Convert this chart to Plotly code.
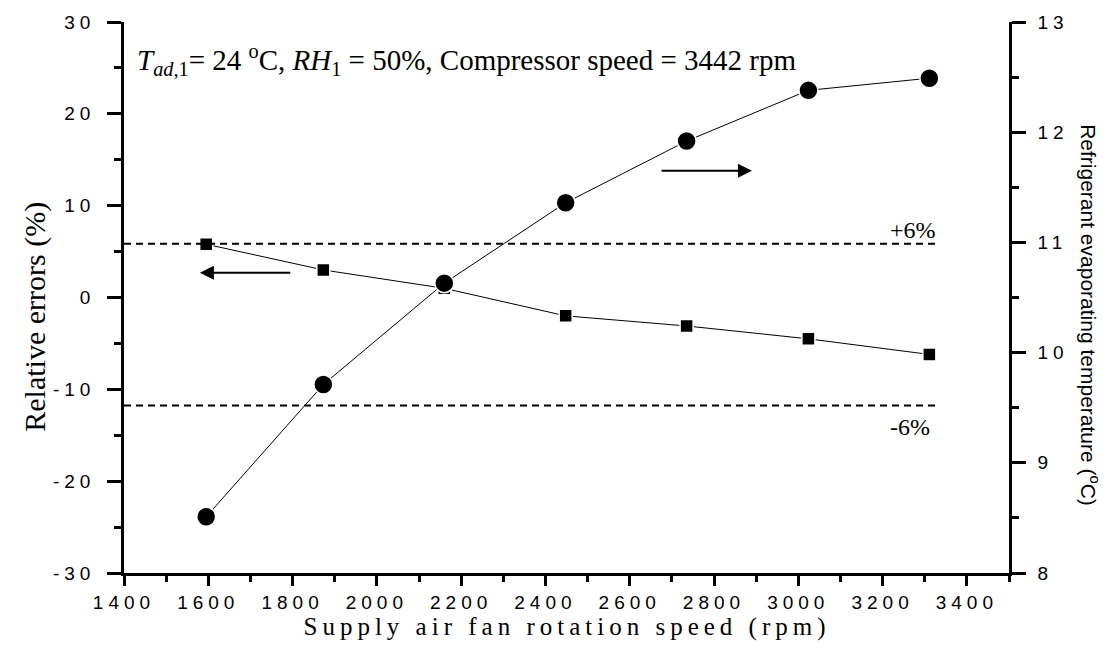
import plotly.graph_objects as go

# ---- data ----
fan_speed = [1595, 1873, 2160, 2448, 2735, 3024, 3311]           # rpm
relative_error = [5.8, 3.0, 1.0, -2.0, -3.1, -4.5, -6.2]          # % (left axis)
evap_temp = [8.51, 9.71, 10.63, 11.36, 11.92, 12.38, 12.49]        # degC (right axis)

band_upper = 5.85     # "+6%" dashed line, left-axis units
band_lower = -11.75   # "-6%" dashed line, left-axis units
band_x = [1400, 3325]

x_ticks = list(range(1400, 3401, 200))
y_ticks = list(range(-30, 31, 10))
y_ticktext = [str(v) for v in y_ticks]
y2_ticks = list(range(8, 14))

SERIF = "Liberation Serif"
SANS = "Liberation Sans"

fig = go.Figure()

fig.add_trace(go.Scatter(
    x=fan_speed, y=relative_error, mode="lines+markers",
    line=dict(color="black", width=1),
    marker=dict(symbol="square", size=13, color="black",
                line=dict(color="white", width=1.5)),
    showlegend=False, yaxis="y", cliponaxis=False))

fig.add_trace(go.Scatter(
    x=fan_speed, y=evap_temp, mode="lines+markers",
    line=dict(color="black", width=1),
    marker=dict(symbol="circle", size=19, color="black",
                line=dict(color="white", width=1.5)),
    showlegend=False, yaxis="y2", cliponaxis=False))

for yv in (band_upper, band_lower):
    fig.add_shape(type="line", xref="x", yref="y", x0=band_x[0], x1=band_x[1],
                  y0=yv, y1=yv, line=dict(color="black", width=2, dash="7px,5px"))

axis_common = dict(showline=True, linecolor="black", linewidth=2.5, ticks="outside",
                   tickcolor="black", tickwidth=2.5, showgrid=False, zeroline=False,
                   tickfont=dict(family=SANS, size=19, color="black"))

fig.update_layout(
    width=1115, height=663,
    margin=dict(l=124, r=106, t=20, b=90),
    paper_bgcolor="white", plot_bgcolor="white",
    xaxis=dict(range=[1400, 3500], tickvals=x_ticks, ticklen=10,
               minor=dict(dtick=100, tick0=1400, ticklen=6, tickwidth=2.5,
                          tickcolor="black", ticks="outside"),
               **axis_common),
    yaxis=dict(range=[-30, 30], tickvals=y_ticks, ticktext=y_ticktext, ticklen=14,
               ticklabelstandoff=8,
               minor=dict(dtick=5, tick0=-30, ticklen=7, tickwidth=2.5,
                          tickcolor="black", ticks="outside"),
               **axis_common),
    yaxis2=dict(range=[8, 13], tickvals=y2_ticks, overlaying="y", side="right",
                ticklen=14, ticklabelstandoff=8,
                minor=dict(dtick=0.5, tick0=8, ticklen=7, tickwidth=2.5,
                           tickcolor="black", ticks="outside"),
                **axis_common),
)

fig.add_annotation(
    text="<i>T<sub>ad,</sub></i><sub>1</sub>= 24 <sup>o</sup>C, <i>RH</i><sub>1</sub> = 50%, Compressor speed = 3442 rpm",
    xref="paper", yref="paper", x=0.012, y=0.931, xanchor="left", yanchor="middle",
    showarrow=False, font=dict(family=SERIF, size=29, color="black"))
fig.add_annotation(text="+6%", xref="x", yref="y", x=3213, y=7.4, xanchor="left",
                   yanchor="middle", showarrow=False,
                   font=dict(family=SERIF, size=24, color="black"))
fig.add_annotation(text="-6%", xref="x", yref="y", x=3213, y=-14.1, xanchor="left",
                   yanchor="middle", showarrow=False,
                   font=dict(family=SERIF, size=24, color="black"))

# direction arrows
fig.add_annotation(x=1580, y=2.7, ax=1798, ay=2.7, xref="x", yref="y", axref="x", ayref="y",
                   text="", showarrow=True, arrowhead=2, arrowsize=1.4, arrowwidth=2,
                   arrowcolor="black")
fig.add_annotation(x=2890, y=13.8, ax=2672, ay=13.8, xref="x", yref="y", axref="x", ayref="y",
                   text="", showarrow=True, arrowhead=2, arrowsize=1.4, arrowwidth=2,
                   arrowcolor="black")

# axis titles
fig.add_annotation(text="Relative errors (%)", xref="paper", yref="paper",
                   x=-0.1006, y=0.465, xanchor="center", yanchor="middle", textangle=-90,
                   showarrow=False, font=dict(family=SERIF, size=30, color="black"))
fig.add_annotation(text="Refrigerant evaporating temperature (<sup>o</sup>C)", xref="paper",
                   yref="paper", x=1.0915, y=0.468, xanchor="center", yanchor="middle",
                   textangle=90, showarrow=False, font=dict(family=SANS, size=21, color="black"))
fig.add_annotation(text="Supply air fan rotation speed (rpm)", xref="paper", yref="paper",
                   x=0.5, y=-0.0976, xanchor="center", yanchor="middle", showarrow=False,
                   font=dict(family=SERIF, size=25, color="black"))

post = """
var s=document.createElement('style');
s.innerHTML='.xtick text, .ytick text, .y2tick text {letter-spacing:5px;} .annotation[data-index="7"] text {letter-spacing:5px;}';
document.head.appendChild(s);
"""
fig.write_html("out.html", post_script=post)
